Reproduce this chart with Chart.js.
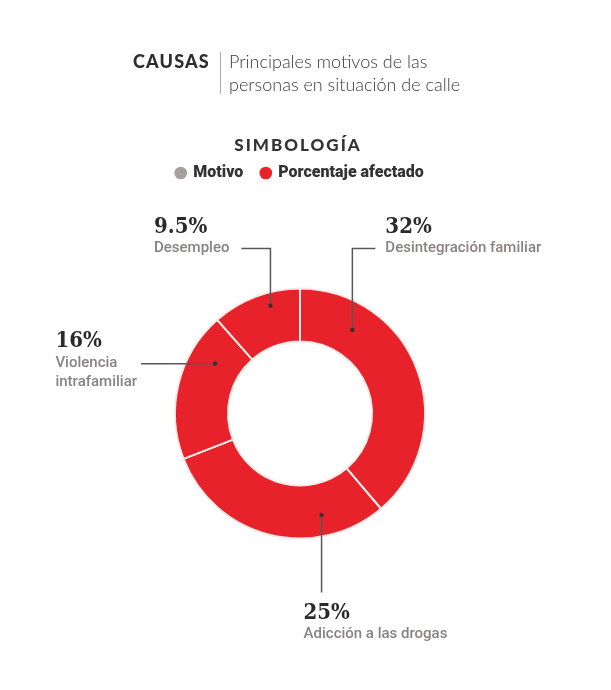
<!DOCTYPE html>
<html>
<head>
<meta charset="utf-8">
<script src="https://cdn.jsdelivr.net/npm/chart.js@4.4.1/dist/chart.umd.min.js"></script>
<style>
  html, body { margin: 0; padding: 0; background: #fff; }
  #wrap { width: 611px; height: 690px; }
</style>
</head>
<body>
<div id="wrap"><canvas id="causasChart" width="611" height="690"></canvas></div>
<script>
// data
const categories = [['Desintegración familiar'], ['Adicción a las drogas'], ['Violencia', 'intrafamiliar'], ['Desempleo']];
const percentages = [32, 25, 16, 9.5];
const percentLabels = ['32%', '25%', '16%', '9.5%'];
const legendTitle = 'SIMBOLOG\u00CDA';
const legendLabels = ['Motivo', 'Porcentaje afectado'];
const legendColors = ['#a69f9d', '#e8222a'];

// where each callout sits (fraction along the slice / ring, and leader shape)
const callouts = [
    { frac: 0.23, rad: 0.5, dir: 'upRight', rise: 40, arm: 23 },
    { frac: 0.26, rad: 0.6, dir: 'down', drop: 54 },
    { frac: 0.74, rad: 0.5, dir: 'left', arm: 74 },
    { frac: 0.63, rad: 0.75, dir: 'upLeft', rise: 40, arm: 29 }
];

const pctFont = 'bold condensed 22px "DejaVu Serif"';
const labelFont = '500 15px Roboto';

const headerPlugin = {
    id: 'header',
    afterDraw(chart) {
        const ctx = chart.ctx;
        const spacing = 'letterSpacing' in ctx;
        ctx.save();
        ctx.textBaseline = 'alphabetic';
        ctx.fillStyle = '#2e2e2e';
        ctx.font = '900 18px Lato';
        if (spacing) ctx.letterSpacing = '1.2px';
        ctx.fillText('CAUSAS', 133, 68);
        if (spacing) ctx.letterSpacing = '0px';
        ctx.strokeStyle = '#b0aaaa';
        ctx.lineWidth = 1;
        ctx.beginPath();
        ctx.moveTo(220.5, 52);
        ctx.lineTo(220.5, 94);
        ctx.stroke();
        ctx.fillStyle = '#3a3a3a';
        ctx.font = '300 18px Lato';
        ctx.fillText('Principales motivos de las', 229, 68);
        ctx.fillText('personas en situación de calle', 229, 91);

        // legend heading above the chart.js legend row
        ctx.fillStyle = '#333';
        ctx.font = '900 17px Lato';
        if (spacing) ctx.letterSpacing = '2px';
        ctx.textAlign = 'center';
        ctx.fillText(legendTitle, 298, 151);
        ctx.restore();
    }
};

const calloutPlugin = {
    id: 'callouts',
    afterDatasetsDraw(chart) {
        const ctx = chart.ctx;
        const arcs = chart.getDatasetMeta(0).data;
        ctx.save();
        arcs.forEach((arc, i) => {
            const c = callouts[i];
            const p = arc.getProps(['x', 'y', 'startAngle', 'endAngle', 'innerRadius', 'outerRadius'], true);
            const a = p.startAngle + c.frac * (p.endAngle - p.startAngle);
            const r = p.innerRadius + c.rad * (p.outerRadius - p.innerRadius);
            const px = p.x + r * Math.cos(a);
            const py = p.y + r * Math.sin(a);

            ctx.strokeStyle = '#5b5656';
            ctx.lineWidth = 1.5;
            ctx.beginPath();
            ctx.moveTo(px, py);
            let tx, ty, align = 'left';
            if (c.dir === 'upRight' || c.dir === 'upLeft') {
                const ey = p.y - p.outerRadius - c.rise;
                const ex = c.dir === 'upRight' ? px + c.arm : px - c.arm;
                ctx.lineTo(px, ey);
                ctx.lineTo(ex, ey);
                ty = ey;
                if (c.dir === 'upRight') { tx = ex + 10; } else { tx = ex - 12; align = 'right'; }
            } else if (c.dir === 'left') {
                const ex = px - c.arm;
                ctx.lineTo(ex, py);
                ctx.font = labelFont;
                const w = Math.max(...categories[i].map(t => ctx.measureText(t).width));
                tx = ex - 4 - w;
                ty = py;
            } else {
                const ey = p.y + p.outerRadius + c.drop;
                ctx.lineTo(px, ey);
                tx = px - 18;
                ty = ey + 42;
            }
            ctx.stroke();

            ctx.fillStyle = '#333';
            ctx.beginPath();
            ctx.arc(px, py, 2.2, 0, Math.PI * 2);
            ctx.fill();

            ctx.textAlign = align;
            ctx.textBaseline = 'middle';
            ctx.fillStyle = '#2a2a2a';
            ctx.font = pctFont;
            let ptx = tx;
            if (align === 'right') {
                // percentage sits left-aligned with the start of its label
                ctx.font = labelFont;
                ptx = tx - ctx.measureText(categories[i][0]).width;
                ctx.font = pctFont;
                ctx.textAlign = 'left';
            }
            ctx.fillText(percentLabels[i], ptx, ty - (c.dir === 'left' ? 22 : 21));
            ctx.textAlign = align;
            ctx.fillStyle = '#888281';
            ctx.font = labelFont;
            categories[i].forEach((t, k) => ctx.fillText(t, tx, ty + k * 19));
        });
        ctx.restore();
    }
};

const ctx = document.getElementById('causasChart').getContext('2d');
const causasChart = new Chart(ctx, {
    type: 'doughnut',
    data: {
        labels: categories.map(l => l.join(' ')),
        datasets: [{
            data: percentages,
            backgroundColor: '#e8222a',
            borderColor: '#f7ebe8',
            borderWidth: 2,
            radius: 125,
            cutout: '57.6%'
        }]
    },
    options: {
        responsive: false,
        animation: false,
        layout: { padding: { top: 147, bottom: 54, left: 0, right: 11 } },
        plugins: {
            tooltip: { enabled: false },
            legend: {
                position: 'top',
                onClick: null,
                labels: {
                    usePointStyle: true,
                    boxWidth: 9,
                    boxHeight: 9,
                    padding: 18,
                    color: '#333',
                    font: { family: 'Roboto', size: 16, weight: '900' },
                    generateLabels: () => legendLabels.map((t, i) => ({
                        text: t, fillStyle: legendColors[i], strokeStyle: legendColors[i],
                        lineWidth: 0, pointStyle: 'circle', hidden: false, index: i, fontColor: '#333'
                    }))
                }
            }
        }
    },
    plugins: [calloutPlugin, headerPlugin]
});
</script>
</body>
</html>
